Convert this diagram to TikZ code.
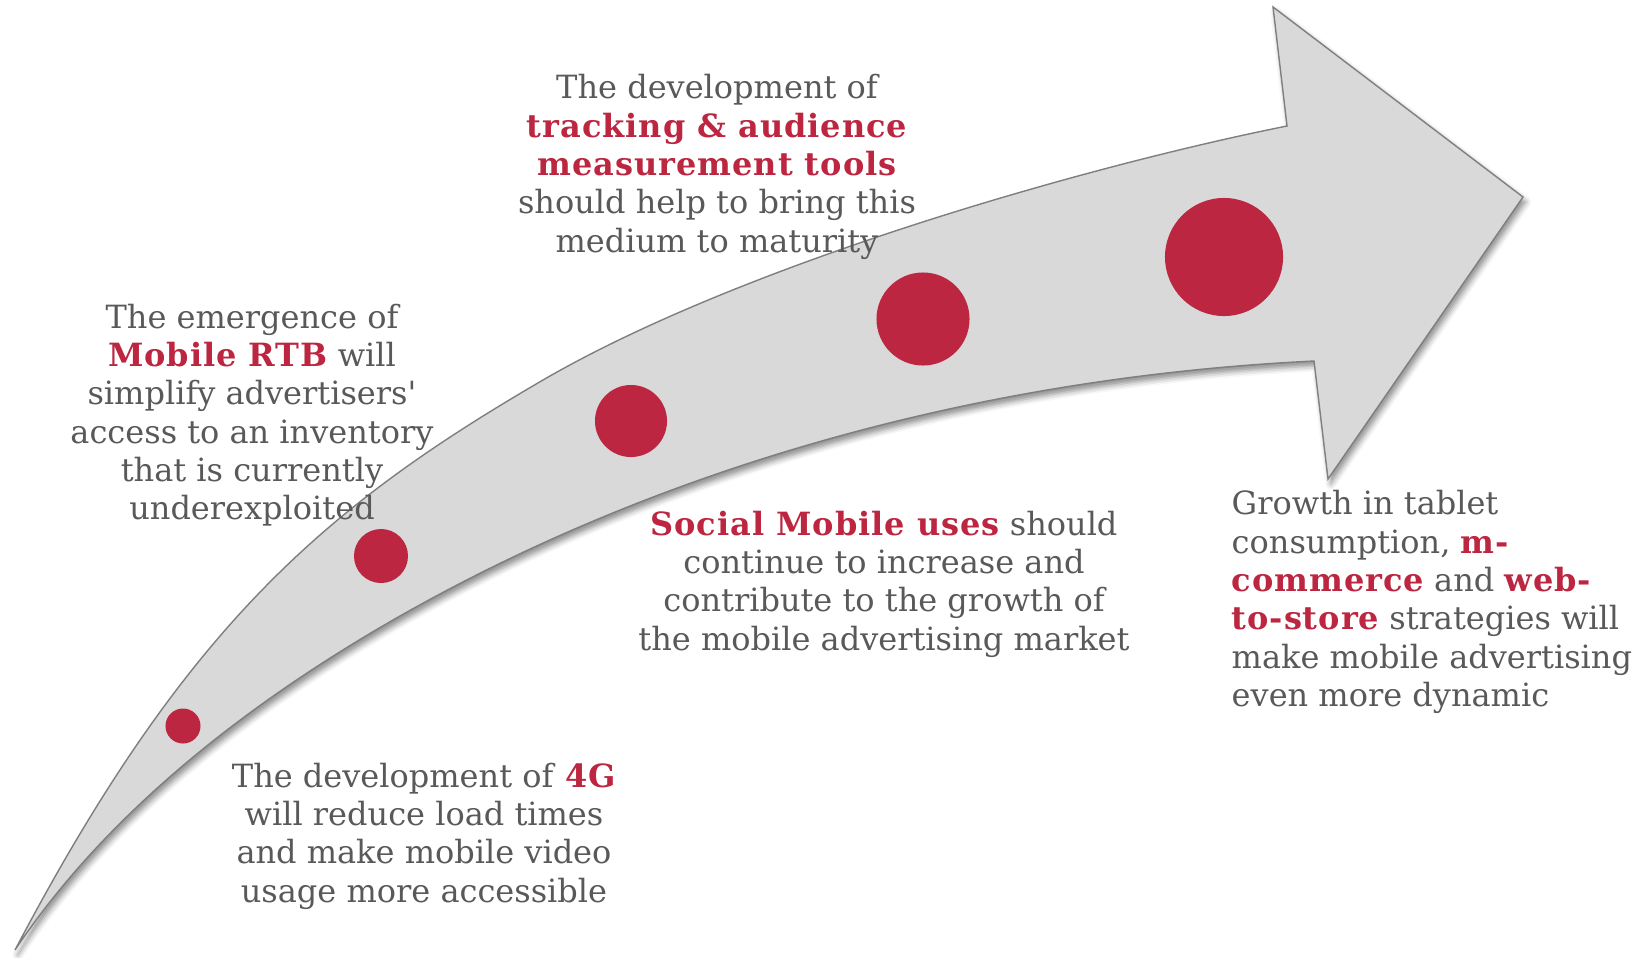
\documentclass[tikz,border=0pt]{standalone}
\usepackage{fontspec}
\setmainfont{DejaVu Serif}[Ligatures=TeXOff,BoldFeatures={LetterSpace=3}]
\usetikzlibrary{shadows.blur}
\definecolor{txtgray}{HTML}{595959}
\definecolor{accent}{HTML}{BC2640}
\definecolor{shaftfill}{HTML}{D9D9D9}
\definecolor{shaftline}{HTML}{7F7F7F}
\newcommand{\hl}[1]{\textbf{\color{accent}#1}}
\begin{document}
\begin{tikzpicture}[x=0.01cm,y=-0.01cm,
  dot/.style={circle,fill=accent,inner sep=0pt,minimum size=#1},
  note/.style={text=txtgray,font=\fontsize{9.1}{10.9}\selectfont,inner sep=0pt},
  shaft/.style={fill=shaftfill,draw=shaftline,line width=0.4pt,line join=miter,
    blur shadow={shadow xshift=0.8pt,shadow yshift=-1.4pt,shadow blur radius=1.6pt,shadow opacity=45}}
]
\useasboundingbox (0,0) rectangle (1652,957);

% curved growth arrow
\path[shaft]
  (15,950) .. controls (185,627) and (323,508) .. (543,380)
  .. controls (743,264) and (1087,166) .. (1287,126)
  -- (1273,7) -- (1523,197) -- (1328,479) -- (1314,361)
  .. controls (964,378) and (650,474) .. (400,616)
  .. controls (270,690) and (115,800) .. cycle;

% milestones along the arrow
\node[dot=0.35cm] (d1) at (183,726) {};
\node[dot=0.54cm] (d2) at (381,556) {};
\node[dot=0.72cm] (d3) at (631,421) {};
\node[dot=0.93cm] (d4) at (923,319) {};
\node[dot=1.18cm] (d5) at (1224,257) {};

% captions
\node[note,align=center] (t4g) at (424,836)
  {The development of \hl{4G}\\ will reduce load times\\ and make mobile video\\ usage more accessible};
\node[note,align=center] (trtb) at (252,415)
  {The emergence of\\ \hl{Mobile RTB} will\\ simplify advertisers'\\ access to an inventory\\ that is currently\\ underexploited};
\node[note,align=center] (ttrack) at (717,167)
  {The development of\\ \hl{tracking \& audience}\\ \hl{measurement tools}\\ should help to bring this\\ medium to maturity};
\node[note,align=center] (tsocial) at (884,584)
  {\hl{Social Mobile uses} should\\ continue to increase and\\ contribute to the growth of\\ the mobile advertising market};
\node[note,align=left,anchor=west] (ttablet) at (1231,602)
  {Growth in tablet\\ consumption, \hl{m-}\\ \hl{commerce} and \hl{web-}\\ \hl{to-store} strategies will\\ make mobile advertising\\ even more dynamic};
\end{tikzpicture}
\end{document}
